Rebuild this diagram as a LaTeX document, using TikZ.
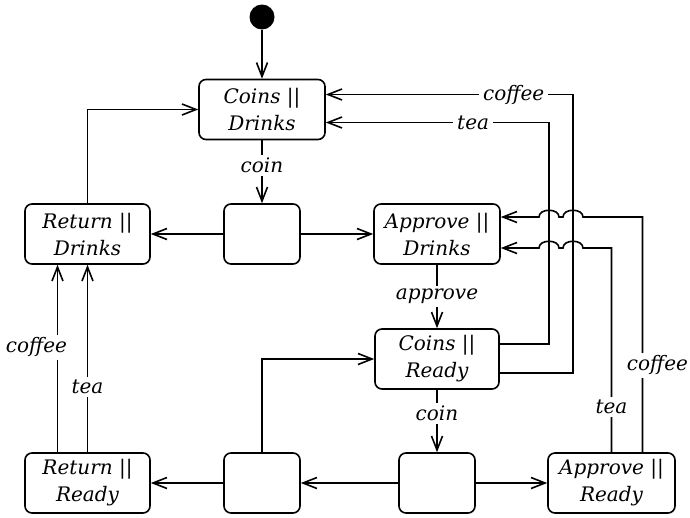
\documentclass[tikz,border=0pt]{standalone}
\usepackage{fontspec}
\setmainfont{DejaVu Serif}
\usetikzlibrary{arrows.meta,calc}

\begin{document}
\begin{tikzpicture}[x=1pt, y=-1pt, line width=1.6pt,
  txt/.style={font=\itshape\fontsize{20}{27}\selectfont},
  state/.style={txt, draw, rounded corners=7pt, minimum width=126pt,
    minimum height=60pt, align=center, inner sep=0pt},
  junction/.style={draw, rounded corners=7pt, minimum width=76pt,
    minimum height=60pt, inner sep=0pt},
  lbl/.style={txt, fill=white, inner xsep=4pt, inner ysep=3pt},
  flow/.style={-{Straight Barb[length=14pt,width=11pt,line width=1.6pt]}},
]
\useasboundingbox (0,0) rectangle (690,517);

% states
\node[circle, fill, minimum size=25pt, inner sep=0pt] (init) at (262,17) {};
\node[state] (CD) at (262,109.5) {Coins ||\\Drinks};
\node[state, minimum width=125pt] (RD) at (87.5,234) {Return ||\\Drinks};
\node[junction] (J1) at (262,234) {};
\node[state] (AD) at (437,234) {Approve ||\\Drinks};
\node[state, minimum width=124pt] (CR) at (437,359) {Coins ||\\Ready};
\node[state, minimum width=125pt] (RR) at (87.5,483) {Return ||\\Ready};
\node[junction] (J2) at (262,483) {};
\node[junction] (J3) at (437,483) {};
\node[state, minimum width=127pt] (AR) at (611.5,483) {Approve ||\\Ready};

% attachment points
\coordinate (cdCof) at ([yshift=15pt]CD.east);
\coordinate (cdTea) at ([yshift=-13pt]CD.east);
\coordinate (crTea) at ([yshift=15pt]CR.east);
\coordinate (crCof) at ([yshift=-14pt]CR.east);
\coordinate (adCof) at ([yshift=17pt]AD.east);
\coordinate (adTea) at ([yshift=-14pt]AD.east);
\coordinate (arTea) at (AR.north);
\coordinate (arCof) at ([xshift=31pt]AR.north);
\coordinate (vTea) at (549,0);
\coordinate (vCof) at (573,0);

% transitions
\draw[flow] (init) -- (CD);
\draw[flow] (CD) -- node[lbl, pos=0.4] {coin} (J1);
\draw[flow] (J1) -- (RD);
\draw[flow] (J1) -- (AD);
\draw[flow] (RD.north) |- (CD.west);
\draw[flow] (AD) -- node[lbl] {approve} (CR);
\draw[flow] (CR) -- node[lbl, pos=0.38] {coin} (J3);
\draw[flow] (J3) -- (AR);
\draw[flow] (J3) -- (J2);
\draw[flow] (J2) -- (RR);
\draw[flow] (J2.north) |- (CR.west);

\draw[flow] (crTea) -| (vTea |- cdTea) -- node[lbl, pos=0.34] {tea} (cdTea);
\draw[flow] (crCof) -| (vCof |- cdCof) -- node[lbl, pos=0.24] {coffee} (cdCof);

% returns to Approve || Drinks, hopping over the vertical lines
\draw[flow] (arTea) -- node[lbl, pos=0.22] {tea} (arTea |- adTea)
  -- ($(vCof |- adTea)+(10,0)$) .. controls +(0,-9) and +(0,-9) .. ($(vCof |- adTea)+(-10,0)$)
  -- ($(vTea |- adTea)+(10,0)$) .. controls +(0,-9) and +(0,-9) .. ($(vTea |- adTea)+(-10,0)$)
  -- (adTea);
\draw[flow] (arCof) -- node[lbl, pos=0.37, xshift=15pt] {coffee} (arCof |- adCof)
  -- ($(vCof |- adCof)+(10,0)$) .. controls +(0,-9) and +(0,-9) .. ($(vCof |- adCof)+(-10,0)$)
  -- ($(vTea |- adCof)+(10,0)$) .. controls +(0,-9) and +(0,-9) .. ($(vTea |- adCof)+(-10,0)$)
  -- (adCof);

\draw[flow] ([xshift=-30pt]RR.north) -- node[lbl, pos=0.56, xshift=-21pt] {coffee} ([xshift=-30pt]RD.south);
\draw[flow] (RR.north) -- node[lbl, pos=0.35] {tea} (RD.south);
\end{tikzpicture}
\end{document}
